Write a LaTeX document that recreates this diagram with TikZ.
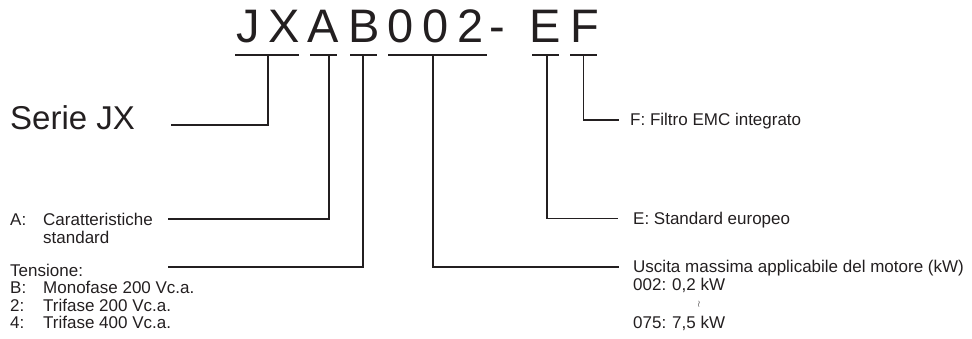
\documentclass[tikz,border=0pt]{standalone}
\usepackage{fontspec}
\setmainfont{Liberation Sans}
\usepackage{tikz}
\usetikzlibrary{positioning}
\definecolor{ink}{HTML}{231F20}
\tikzset{
  code/.style={anchor=base,inner sep=0pt,font=\fontsize{47}{47}\selectfont,text=ink},
  lab/.style={anchor=base west,inner sep=0pt,font=\fontsize{17}{17}\selectfont,text=ink},
  bar/.style={draw=ink,line width=2.2pt},
  lnk/.style={draw=ink,line width=2pt},
  tlnk/.style={draw=ink,line width=1.3pt},
}
\begin{document}
\begin{tikzpicture}[x=1pt,y=-1pt]
\useasboundingbox (0,0) rectangle (972,338);
% model code
\foreach \c/\x/\n in {J/248/cJ,X/284/cX,A/323.5/cA,B/364/cB,0/401/c0,0/436/c00,2/471/c2,-/497/cd,E/545/cE,F/585/cF}
  \node[code] (\n) at (\x,42) {\c};
% underlines
\foreach \a/\b in {235/299,310/337,350/377,388/487,532/559,570/597}
  \draw[bar] (\a,55) -- (\b,55);
\coordinate (t1) at (268,55);
\coordinate (t2) at (328.5,55);
\coordinate (t3) at (363,55);
\coordinate (t4) at (433,55);
\coordinate (t5) at (547,55);
\coordinate (t6) at (583.5,55);
% left labels
\node[lab,font=\fontsize{33}{33}\selectfont] (serie) at (10,129) {Serie JX};
\node[lab] (kA) at (10,225) {A:};
\node[lab] (carat) at (43,225) {Caratteristiche};
\node[lab] (std) at (43,243) {standard};
\node[lab] (tens) at (10,276) {Tensione:};
\node[lab] (kB) at (10,293.5) {B:};
\node[lab] (vB) at (43,293.5) {Monofase 200 Vc.a.};
\node[lab] (k2) at (10,311) {2:};
\node[lab] (v2) at (43,311) {Trifase 200 Vc.a.};
\node[lab] (k4) at (10,328.5) {4:};
\node[lab] (v4) at (43,328.5) {Trifase 400 Vc.a.};
% right labels
\node[lab] (filt) at (630,125) {F: Filtro EMC integrato};
\node[lab] (eur) at (633,224) {E: Standard europeo};
\node[lab] (usc) at (633,272) {Uscita massima applicabile del motore (kW)};
\node[lab] (k002) at (633,290) {002:};
\node[lab] (v002) at (672,290) {0,2 kW};
\node[inner sep=0pt,text=ink,font=\fontsize{9}{9}\selectfont] (til) at (699,304) {$\wr$};
\node[lab] (k075) at (633,328.5) {075:};
\node[lab] (v075) at (672,328.5) {7,5 kW};
% line ends
\coordinate (e1) at (171,125);
\coordinate (e2) at (168,218.5);
\coordinate (e3) at (168,267);
\coordinate (e4) at (619,267);
\coordinate (e5) at (618,218.5);
\coordinate (e6) at (619,120);
\draw[lnk,line width=2.6pt] (t1) |- (e1);
\draw[lnk] (t2) |- (e2);
\draw[lnk] (t3) |- (e3);
\draw[lnk] (t4) |- (e4);
\draw[tlnk,line width=1.5pt] (t5) |- (e5);
\draw[tlnk] (t6) |- (e6);
\end{tikzpicture}
\end{document}
